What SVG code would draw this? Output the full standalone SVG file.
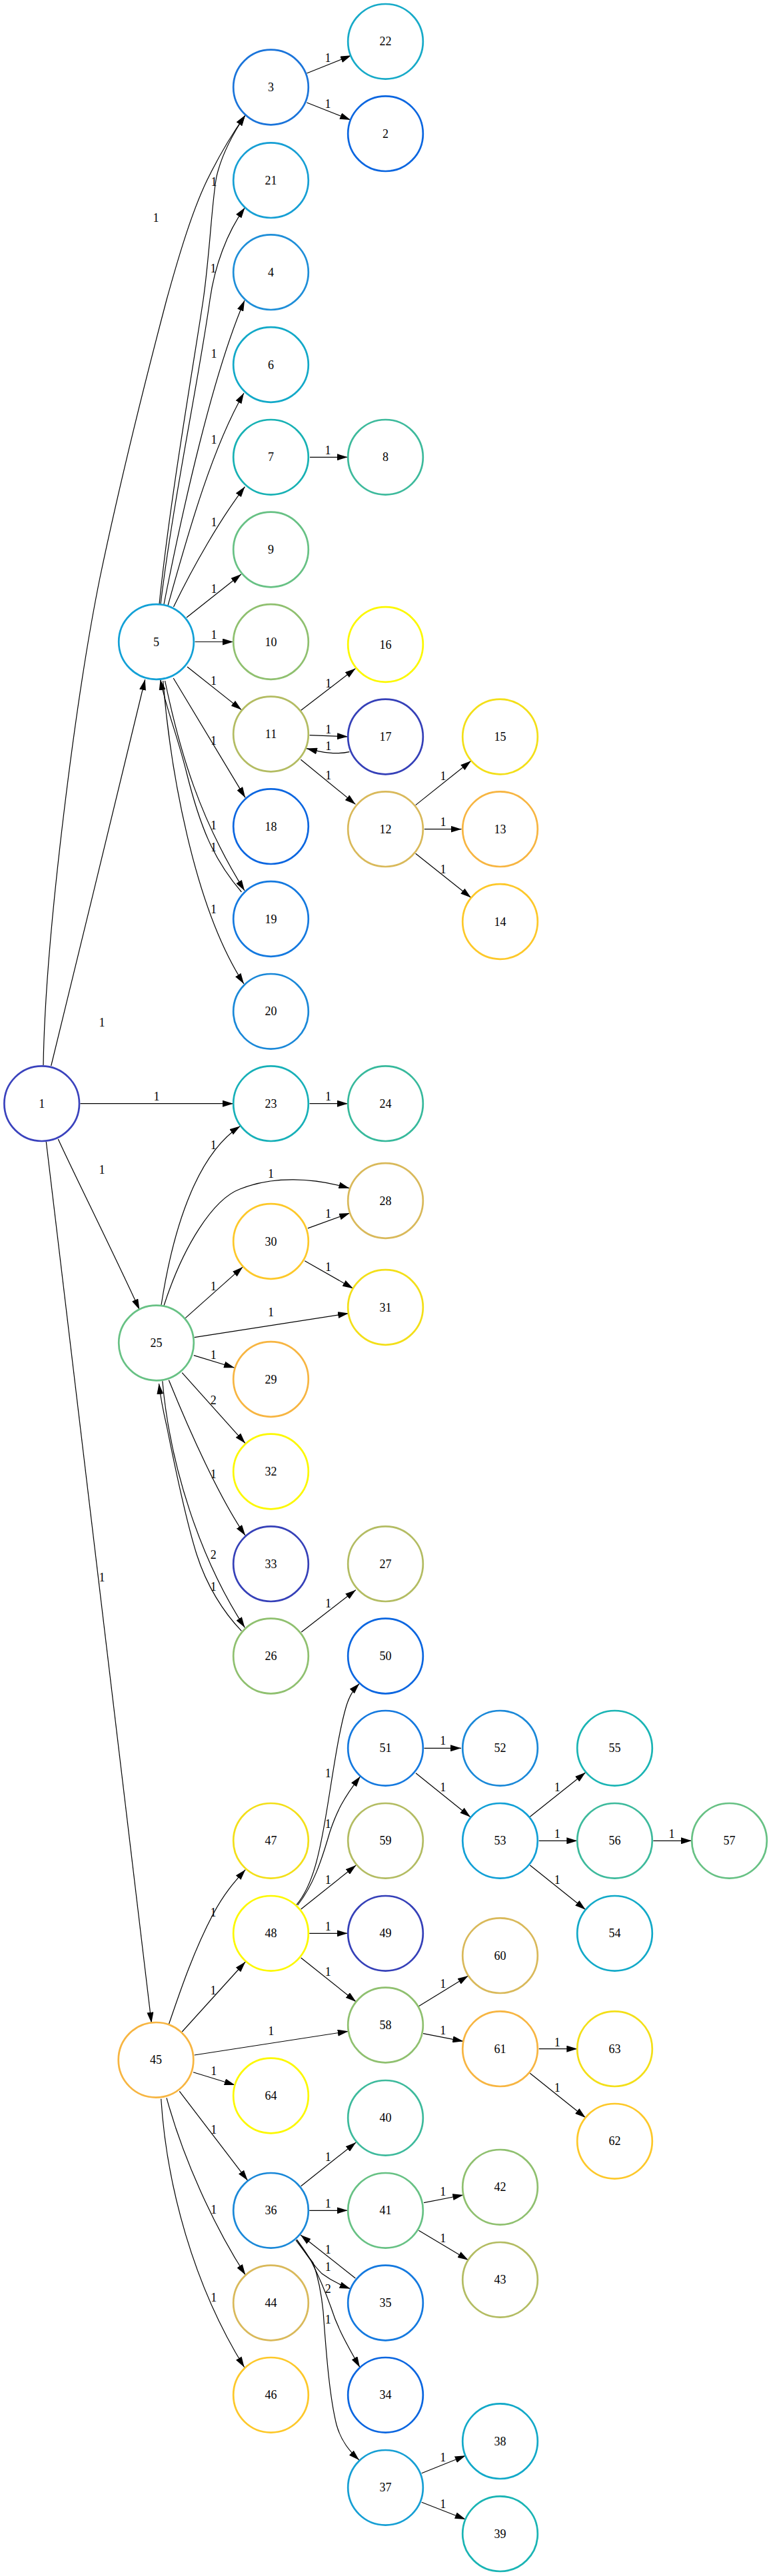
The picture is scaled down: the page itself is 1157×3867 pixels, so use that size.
<svg xmlns="http://www.w3.org/2000/svg" width="1157" height="3867" viewBox="0 0 1157 3867">
<defs>
<marker id="ah" markerUnits="userSpaceOnUse" markerWidth="16" markerHeight="10" refX="16" refY="5" orient="auto">
<path d="M0,0 L16,5 L0,10 z" fill="#000"/>
</marker>
<style>
.node circle{fill:none;stroke-width:2.7}
.node text{font-family:"Liberation Serif","Times New Roman",serif;font-size:18px;text-anchor:middle;fill:#000}
.edges path{fill:none;stroke:#000;stroke-width:1.2;marker-end:url(#ah)}
.edges text{font-family:"Liberation Serif","Times New Roman",serif;font-size:18px;text-anchor:middle;fill:#000}
</style>
</defs>
<rect width="1157" height="3867" fill="#fff"/>
<g id="edges" class="edges">
<path d="M65,1599 C68,1400 115,1040 150,867 C185,700 225,545 250,450 C268,385 290,310 315,262 C330,232 347,203 368,173"/><text x="234" y="333">1</text>
<path d="M76.7,1600 C120,1420 180,1180 217.7,1020"/><text x="153" y="1541">1</text>
<path d="M120.4,1656.7 L350,1656.7"/><text x="235" y="1652">1</text>
<path d="M87.3,1710 C110,1760 170,1880 209.3,1966"/><text x="153" y="1762">1</text>
<path d="M69.3,1714 L227.3,3036.7"/><text x="153" y="2374">1</text>
<path d="M460.4,110 L527,83.3"/><text x="492" y="92.5">1</text>
<path d="M460.4,154 L526,180"/><text x="492" y="162">1</text>
<path d="M239,907 C255,750 290,550 305,450 C315,380 318,300 325,265 C333,230 350,200 368,173"/><text x="321" y="279">1</text>
<path d="M241,907 C260,750 300,560 315,450 C322,400 340,350 367.5,311.7"/><text x="320" y="409">1</text>
<path d="M246,907 C275,760 320,560 367,451"/><text x="321" y="537">1</text>
<path d="M252,909 C285,790 320,670 366,590"/><text x="321" y="666">1</text>
<path d="M260.5,911 C290,850 330,780 367.5,730.6"/><text x="321" y="790">1</text>
<path d="M280,927 L362,862"/><text x="321" y="890">1</text>
<path d="M292.5,963.5 L350,963.5"/><text x="321" y="959">1</text>
<path d="M465,686.3 L521.8,686.3"/><text x="492" y="682">1</text>
<path d="M281,1001 L362.4,1065.6"/><text x="320.5" y="1028">1</text>
<path d="M260.2,1018 L368.1,1197.4"/><text x="320.5" y="1118">1</text>
<path d="M247.6,1022 C270,1130 300,1230 367,1337"/><text x="320.5" y="1244.5">1</text>
<path d="M362.4,1339 C320,1290 300,1240 280,1160 C265,1100 248,1060 240.7,1020"/><text x="320.5" y="1278">1</text>
<path d="M244.7,1022 C255,1150 290,1360 366,1477"/><text x="320.5" y="1371">1</text>
<path d="M451.4,1066.4 L533.5,1003.4"/><text x="492.7" y="1032">1</text>
<path d="M464.6,1103.7 L522,1105.8"/><text x="492.7" y="1100.6">1</text>
<path d="M524.3,1128.6 C505,1133 485,1130 460,1123.6"/><text x="492.7" y="1126.3">1</text>
<path d="M451.4,1140.2 L533.5,1207.4"/><text x="492.7" y="1169.8">1</text>
<path d="M623.6,1208.6 L706.8,1142.3"/><text x="665" y="1171">1</text>
<path d="M636.8,1244.7 L692.5,1244.7"/><text x="665" y="1240.3">1</text>
<path d="M623.6,1281.2 L706.8,1347.5"/><text x="665" y="1310.8">1</text>
<path d="M464.6,1656.7 L522,1656.7"/><text x="492.5" y="1651.7">1</text>
<path d="M242,1959 C262,1830 300,1730 360.5,1690.5"/><text x="320.3" y="1724.7">1</text>
<path d="M246,1960 C275,1870 320,1800 360,1785 C410,1765 470,1768 524.3,1783.7"/><text x="406.4" y="1767.8">1</text>
<path d="M461.9,1843.9 L525,1821"/><text x="492.5" y="1827.9">1</text>
<path d="M457.3,1892.8 L530,1934.2"/><text x="492.5" y="1908">1</text>
<path d="M278.2,1978.6 L364.3,1901.9"/><text x="320.3" y="1937">1</text>
<path d="M291.6,2007.6 L523.1,1971.6"/><text x="406.4" y="1976.3">1</text>
<path d="M290.8,2034.6 L352,2053.2"/><text x="320.3" y="2039.7">1</text>
<path d="M273.2,2060.7 L368.1,2166.7"/><text x="320.3" y="2107.7">2</text>
<path d="M253.3,2071.7 C285,2150 330,2250 368.1,2305"/><text x="320.3" y="2219.3">1</text>
<path d="M243.8,2073.3 C255,2200 300,2340 367.4,2443.3"/><text x="320.3" y="2340">2</text>
<path d="M362.4,2448.3 C335,2420 310,2380 295,2333 C280,2285 262,2200 250,2140 C243,2110 240,2090 238.5,2077"/><text x="320.3" y="2387.7">1</text>
<path d="M452.3,2450 L533.9,2386.7"/><text x="492.5" y="2412.7">1</text>
<path d="M253.3,3039 C270,2990 290,2930 320,2873 C338,2840 352,2825 368.3,2806.7"/><text x="320" y="2876.7">1</text>
<path d="M273.3,3050 L368.3,2945"/><text x="320" y="2994.3">1</text>
<path d="M291.7,3085 L522.7,3049.3"/><text x="406.7" y="3055.3">1</text>
<path d="M290,3110.7 L352.7,3130"/><text x="320.7" y="3115.3">1</text>
<path d="M269.3,3139.3 L371.7,3273.3"/><text x="320.7" y="3202.7">1</text>
<path d="M250,3149.3 C275,3240 320,3340 368.3,3415"/><text x="320.7" y="3322.7">1</text>
<path d="M241.7,3150.7 C250,3280 290,3430 366.7,3553.7"/><text x="320.7" y="3454.7">1</text>
<path d="M445,2859.3 C470,2830 480,2780 490,2720 C500,2660 508,2600 520,2560 C525,2545 530,2537 539.3,2527.3"/><text x="492.3" y="2667.7">1</text>
<path d="M446.7,2860 C470,2830 482,2795 495,2750 C505,2720 515,2700 540.7,2666.7"/><text x="492.3" y="2744.3">1</text>
<path d="M451.7,2866 L534.3,2800"/><text x="492.3" y="2827.7">1</text>
<path d="M464.3,2902.3 L521.7,2902.3"/><text x="492.3" y="2897.7">1</text>
<path d="M451.7,2939 L534.3,3005"/><text x="492.3" y="2966">1</text>
<path d="M636.5,2624.3 L692,2624.3"/><text x="664.7" y="2619.3">1</text>
<path d="M624,2661.7 L706,2727.7"/><text x="664.7" y="2689.3">1</text>
<path d="M795.3,2727.3 L878.7,2660.7"/><text x="836.3" y="2689.3">1</text>
<path d="M808.7,2763.3 L866.3,2763.3"/><text x="836.3" y="2758.7">1</text>
<path d="M795.3,2800 L878.7,2866.7"/><text x="836.3" y="2827.7">1</text>
<path d="M980.3,2763.3 L1038,2763.3"/><text x="1008" y="2758.7">1</text>
<path d="M628.3,3011.7 L702.7,2966"/><text x="664.7" y="2984.3">1</text>
<path d="M635,3052.7 L695.3,3064.3"/><text x="664.7" y="3054.3">1</text>
<path d="M808.7,3075.7 L866.3,3075.7"/><text x="836.3" y="3072">1</text>
<path d="M795.3,3112.3 L878.7,3179"/><text x="836.3" y="3140">1</text>
<path d="M451.7,3281.7 L534.3,3216"/><text x="492.3" y="3244.3">1</text>
<path d="M464.3,3318.3 L521.7,3318.3"/><text x="492.3" y="3314.3">1</text>
<path d="M533.3,3420 L451,3355"/><text x="492.3" y="3382.7">1</text>
<path d="M445,3361.7 C460,3385 470,3400 483.3,3413.3 C495,3422 510,3430 525.7,3435.7"/><text x="492.3" y="3408.7">1</text>
<path d="M445.5,3362 C455,3375 462,3385 466.7,3393.7 C480,3420 490,3445 496.7,3463.7 C505,3490 515,3510 540,3553.7"/><text x="492.3" y="3442.3">2</text>
<path d="M444,3363 C455,3378 465,3390 470,3397 C478,3420 482,3440 485,3470 C490,3540 495,3600 505,3640 C512,3665 525,3680 539,3693"/><text x="492.3" y="3488">1</text>
<path d="M636,3306.7 L695.3,3295"/><text x="664.7" y="3296">1</text>
<path d="M628.3,3348.3 L702.7,3392.7"/><text x="664.7" y="3366">1</text>
<path d="M632.7,3712.7 L698.7,3686.3"/><text x="664.7" y="3694.7">1</text>
<path d="M632.7,3756.3 L698.7,3782"/><text x="664.7" y="3764.7">1</text>
</g>
<g id="n1" class="node"><circle cx="62.7" cy="1656.7" r="56.3" stroke="#3a42bd"/><text x="62.7" y="1662.7">1</text></g>
<g id="n3" class="node"><circle cx="406.5" cy="131" r="56.3" stroke="#1a74da"/><text x="406.5" y="137">3</text></g>
<g id="n22" class="node"><circle cx="578.5" cy="62.3" r="56.3" stroke="#17aac8"/><text x="578.5" y="68.3">22</text></g>
<g id="n2" class="node"><circle cx="578.5" cy="200.7" r="56.3" stroke="#0b66e0"/><text x="578.5" y="206.7">2</text></g>
<g id="n21" class="node"><circle cx="406.5" cy="270.7" r="56.3" stroke="#169fd4"/><text x="406.5" y="276.7">21</text></g>
<g id="n4" class="node"><circle cx="406.5" cy="408.7" r="56.3" stroke="#1e8ed8"/><text x="406.5" y="414.7">4</text></g>
<g id="n6" class="node"><circle cx="406.5" cy="547.5" r="56.3" stroke="#12a9c8"/><text x="406.5" y="553.5">6</text></g>
<g id="n7" class="node"><circle cx="406.5" cy="686.3" r="56.3" stroke="#17b1b4"/><text x="406.5" y="692.3">7</text></g>
<g id="n8" class="node"><circle cx="578.5" cy="686.3" r="56.3" stroke="#3dba9c"/><text x="578.5" y="692.3">8</text></g>
<g id="n9" class="node"><circle cx="406.5" cy="825" r="56.3" stroke="#67c184"/><text x="406.5" y="831">9</text></g>
<g id="n5" class="node"><circle cx="234.5" cy="963.5" r="56.3" stroke="#12a0d6"/><text x="234.5" y="969.5">5</text></g>
<g id="n10" class="node"><circle cx="406.5" cy="963.5" r="56.3" stroke="#8fc06f"/><text x="406.5" y="969.5">10</text></g>
<g id="n16" class="node"><circle cx="578.5" cy="967.5" r="56.3" stroke="#fcf800"/><text x="578.5" y="973.5">16</text></g>
<g id="n11" class="node"><circle cx="406.5" cy="1102" r="56.3" stroke="#b3bc62"/><text x="406.5" y="1108">11</text></g>
<g id="n17" class="node"><circle cx="578.5" cy="1106" r="56.3" stroke="#3540b8"/><text x="578.5" y="1112">17</text></g>
<g id="n15" class="node"><circle cx="750.5" cy="1106" r="56.3" stroke="#f3df18"/><text x="750.5" y="1112">15</text></g>
<g id="n18" class="node"><circle cx="406.5" cy="1240.7" r="56.3" stroke="#0b66e0"/><text x="406.5" y="1246.7">18</text></g>
<g id="n12" class="node"><circle cx="578.5" cy="1244.7" r="56.3" stroke="#d9b95a"/><text x="578.5" y="1250.7">12</text></g>
<g id="n13" class="node"><circle cx="750.5" cy="1244.7" r="56.3" stroke="#f7b541"/><text x="750.5" y="1250.7">13</text></g>
<g id="n19" class="node"><circle cx="406.5" cy="1379.5" r="56.3" stroke="#1479df"/><text x="406.5" y="1385.5">19</text></g>
<g id="n14" class="node"><circle cx="750.5" cy="1383.5" r="56.3" stroke="#fdc829"/><text x="750.5" y="1389.5">14</text></g>
<g id="n20" class="node"><circle cx="406.5" cy="1518.3" r="56.3" stroke="#1a88d8"/><text x="406.5" y="1524.3">20</text></g>
<g id="n23" class="node"><circle cx="406.5" cy="1656.7" r="56.3" stroke="#17b0b8"/><text x="406.5" y="1662.7">23</text></g>
<g id="n24" class="node"><circle cx="578.5" cy="1656.7" r="56.3" stroke="#37b99c"/><text x="578.5" y="1662.7">24</text></g>
<g id="n28" class="node"><circle cx="578.5" cy="1802.5" r="56.3" stroke="#d9b95a"/><text x="578.5" y="1808.5">28</text></g>
<g id="n30" class="node"><circle cx="406.5" cy="1863.5" r="56.3" stroke="#fdc829"/><text x="406.5" y="1869.5">30</text></g>
<g id="n31" class="node"><circle cx="578.5" cy="1962.5" r="56.3" stroke="#f3df18"/><text x="578.5" y="1968.5">31</text></g>
<g id="n25" class="node"><circle cx="234.5" cy="2016" r="56.3" stroke="#67c184"/><text x="234.5" y="2022">25</text></g>
<g id="n29" class="node"><circle cx="406.5" cy="2070.5" r="56.3" stroke="#f7b541"/><text x="406.5" y="2076.5">29</text></g>
<g id="n32" class="node"><circle cx="406.5" cy="2209" r="56.3" stroke="#fcf800"/><text x="406.5" y="2215">32</text></g>
<g id="n33" class="node"><circle cx="406.5" cy="2347.7" r="56.3" stroke="#3540b8"/><text x="406.5" y="2353.7">33</text></g>
<g id="n27" class="node"><circle cx="578.5" cy="2347.7" r="56.3" stroke="#b3bc62"/><text x="578.5" y="2353.7">27</text></g>
<g id="n26" class="node"><circle cx="406.5" cy="2486" r="56.3" stroke="#8fc06f"/><text x="406.5" y="2492">26</text></g>
<g id="n50" class="node"><circle cx="578.5" cy="2486" r="56.3" stroke="#0b66e0"/><text x="578.5" y="2492">50</text></g>
<g id="n51" class="node"><circle cx="578.5" cy="2624.3" r="56.3" stroke="#1479df"/><text x="578.5" y="2630.3">51</text></g>
<g id="n52" class="node"><circle cx="750.5" cy="2624.3" r="56.3" stroke="#1a88d8"/><text x="750.5" y="2630.3">52</text></g>
<g id="n55" class="node"><circle cx="922.5" cy="2624.3" r="56.3" stroke="#1ab4b4"/><text x="922.5" y="2630.3">55</text></g>
<g id="n47" class="node"><circle cx="406.5" cy="2763.3" r="56.3" stroke="#f3df18"/><text x="406.5" y="2769.3">47</text></g>
<g id="n59" class="node"><circle cx="578.5" cy="2763.3" r="56.3" stroke="#b3bc62"/><text x="578.5" y="2769.3">59</text></g>
<g id="n53" class="node"><circle cx="750.5" cy="2763.3" r="56.3" stroke="#12a0d6"/><text x="750.5" y="2769.3">53</text></g>
<g id="n56" class="node"><circle cx="922.5" cy="2763.3" r="56.3" stroke="#3dba9c"/><text x="922.5" y="2769.3">56</text></g>
<g id="n57" class="node"><circle cx="1094.5" cy="2763.3" r="56.3" stroke="#67c184"/><text x="1094.5" y="2769.3">57</text></g>
<g id="n48" class="node"><circle cx="406.5" cy="2902.3" r="56.3" stroke="#fcf800"/><text x="406.5" y="2908.3">48</text></g>
<g id="n49" class="node"><circle cx="578.5" cy="2902.3" r="56.3" stroke="#3540b8"/><text x="578.5" y="2908.3">49</text></g>
<g id="n54" class="node"><circle cx="922.5" cy="2902.3" r="56.3" stroke="#12a9c8"/><text x="922.5" y="2908.3">54</text></g>
<g id="n60" class="node"><circle cx="750.5" cy="2935.7" r="56.3" stroke="#d9b95a"/><text x="750.5" y="2941.7">60</text></g>
<g id="n58" class="node"><circle cx="578.5" cy="3040" r="56.3" stroke="#8fc06f"/><text x="578.5" y="3046">58</text></g>
<g id="n61" class="node"><circle cx="750.5" cy="3075.7" r="56.3" stroke="#f7b541"/><text x="750.5" y="3081.7">61</text></g>
<g id="n63" class="node"><circle cx="922.5" cy="3075.7" r="56.3" stroke="#f3df18"/><text x="922.5" y="3081.7">63</text></g>
<g id="n45" class="node"><circle cx="234" cy="3092.3" r="56.3" stroke="#f7b541"/><text x="234" y="3098.3">45</text></g>
<g id="n64" class="node"><circle cx="406.5" cy="3146" r="56.3" stroke="#fcf800"/><text x="406.5" y="3152">64</text></g>
<g id="n40" class="node"><circle cx="578.5" cy="3179.3" r="56.3" stroke="#3dba9c"/><text x="578.5" y="3185.3">40</text></g>
<g id="n62" class="node"><circle cx="922.5" cy="3214.3" r="56.3" stroke="#fdc829"/><text x="922.5" y="3220.3">62</text></g>
<g id="n42" class="node"><circle cx="750.5" cy="3283.3" r="56.3" stroke="#8fc06f"/><text x="750.5" y="3289.3">42</text></g>
<g id="n36" class="node"><circle cx="406.5" cy="3318.3" r="56.3" stroke="#1a88d8"/><text x="406.5" y="3324.3">36</text></g>
<g id="n41" class="node"><circle cx="578.5" cy="3318.3" r="56.3" stroke="#67c184"/><text x="578.5" y="3324.3">41</text></g>
<g id="n43" class="node"><circle cx="750.5" cy="3422.3" r="56.3" stroke="#b3bc62"/><text x="750.5" y="3428.3">43</text></g>
<g id="n44" class="node"><circle cx="406.5" cy="3457" r="56.3" stroke="#d9b95a"/><text x="406.5" y="3463">44</text></g>
<g id="n35" class="node"><circle cx="578.5" cy="3457" r="56.3" stroke="#1479df"/><text x="578.5" y="3463">35</text></g>
<g id="n46" class="node"><circle cx="406.5" cy="3595.3" r="56.3" stroke="#fdc829"/><text x="406.5" y="3601.3">46</text></g>
<g id="n34" class="node"><circle cx="578.5" cy="3595.3" r="56.3" stroke="#0b66e0"/><text x="578.5" y="3601.3">34</text></g>
<g id="n38" class="node"><circle cx="750.5" cy="3664.7" r="56.3" stroke="#12a9c8"/><text x="750.5" y="3670.7">38</text></g>
<g id="n37" class="node"><circle cx="578.5" cy="3734.3" r="56.3" stroke="#169fd4"/><text x="578.5" y="3740.3">37</text></g>
<g id="n39" class="node"><circle cx="750.5" cy="3803.7" r="56.3" stroke="#1ab4b4"/><text x="750.5" y="3809.7">39</text></g>
</svg>
